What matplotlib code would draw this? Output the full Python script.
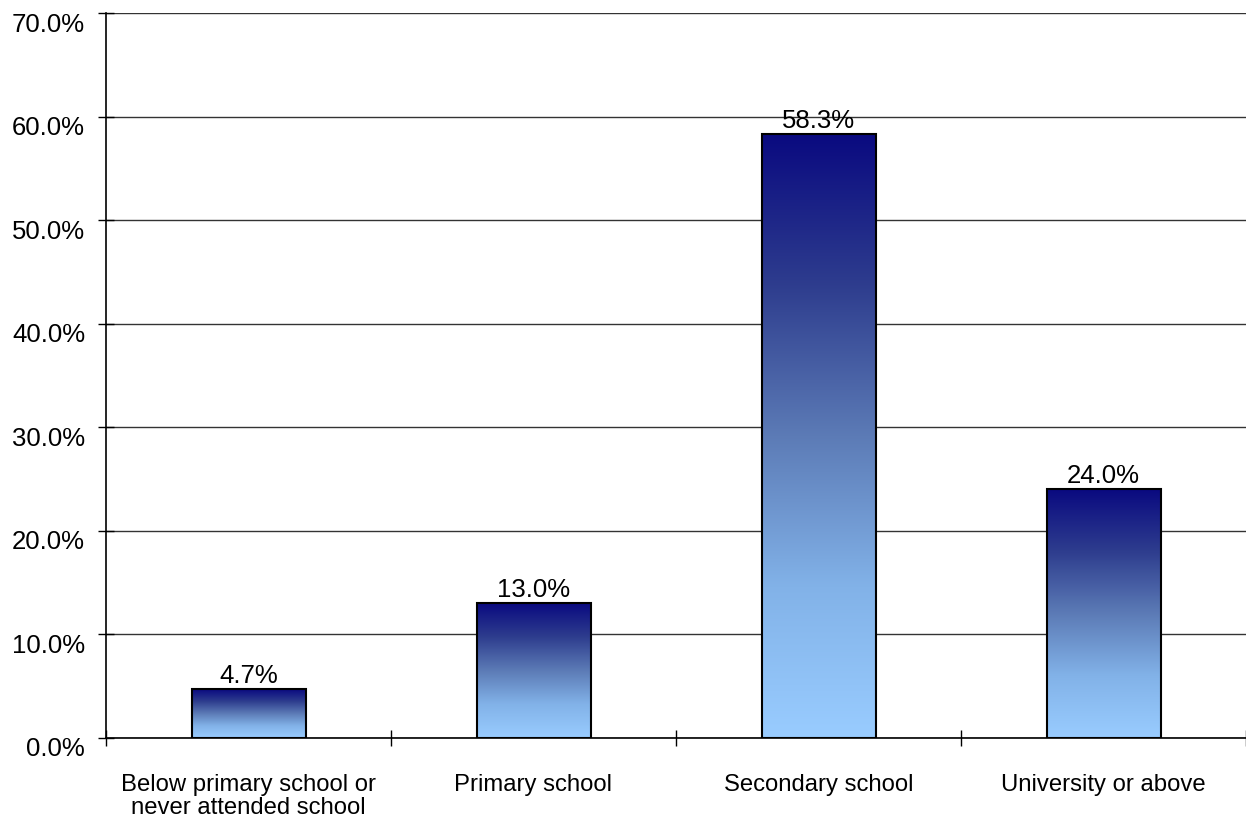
import numpy as np
import matplotlib
matplotlib.use("Agg")
import matplotlib.pyplot as plt
from matplotlib.colors import LinearSegmentedColormap
from matplotlib.transforms import ScaledTranslation

categories = ["Below primary school or\nnever attended school", "Primary school",
              "Secondary school", "University or above"]
values = [4.7, 13.0, 58.3, 24.0]
value_labels = ["4.7%", "13.0%", "58.3%", "24.0%"]
yticks = [0, 10, 20, 30, 40, 50, 60, 70]
ytick_labels = ["0.0%", "10.0%", "20.0%", "30.0%", "40.0%", "50.0%", "60.0%", "70.0%"]

plt.rcParams['font.family'] = ['Liberation Sans', 'DejaVu Sans']

fig = plt.figure(figsize=(12.46, 8.25), dpi=100)
ax = fig.add_axes([106/1246, 1 - 738/825, 1 - 106/1246, (738 - 13)/825])

x = np.arange(len(categories))
bars = ax.bar(x, values, width=0.40, color='none', edgecolor='black', linewidth=1.5, zorder=3)

cmap = LinearSegmentedColormap.from_list(
    "grad", [(0.0, "#99ccff"), (0.25, "#82b2e8"), (0.5, "#5c7bb6"),
             (0.75, "#2e3d8e"), (1.0, "#0a0a80")])
grad = np.linspace(0, 1, 256).reshape(-1, 1)
for b in bars:
    x0, w, h = b.get_x(), b.get_width(), b.get_height()
    im = ax.imshow(grad, cmap=cmap, aspect='auto', origin='lower',
                   extent=[x0, x0 + w, 0, h], zorder=2, interpolation='bilinear')
    im.set_clip_path(b)

for b, lab in zip(bars, value_labels):
    ax.annotate(lab, (b.get_x() + b.get_width() / 2, b.get_height()),
                xytext=(0, 1), textcoords='offset points', ha='center', va='bottom',
                fontsize=18.5, zorder=4)

ax.set_xlim(-0.5, 3.5)
ax.set_ylim(0, 70)
ax.set_yticks(yticks)
ax.set_yticklabels(ytick_labels, fontsize=18.5)
ax.yaxis.grid(True, color='#333333', linewidth=1.0, zorder=0)
ax.set_axisbelow(True)

ax.set_xticks(x)
ax.set_xticklabels(categories, fontsize=17.2, linespacing=1.05)
ax.tick_params(axis='x', which='major', length=0, pad=26)
ax.set_xticks(np.arange(-0.5, 4.0, 1.0), minor=True)
ax.tick_params(axis='x', which='minor', direction='inout', length=11, width=1, color='black')
ax.tick_params(axis='y', which='major', direction='inout', length=12, width=1, pad=9, color='black')

offset = ScaledTranslation(0, -9/100, fig.dpi_scale_trans)
for lab in ax.get_yticklabels():
    lab.set_transform(lab.get_transform() + offset)

for s in ['top', 'right']:
    ax.spines[s].set_visible(False)
ax.spines['left'].set_linewidth(1.2)
ax.spines['bottom'].set_linewidth(1.2)
ax.spines['left'].set_zorder(5)
ax.spines['bottom'].set_zorder(5)

fig.savefig("out.png", dpi=100)
